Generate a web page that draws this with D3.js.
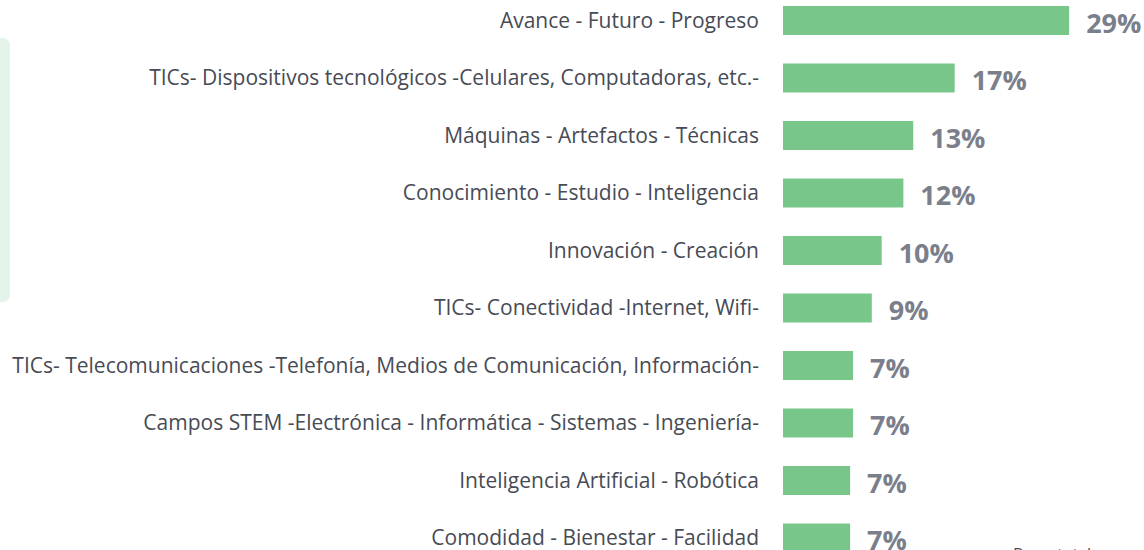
<!DOCTYPE html>
<html>
<head>
<meta charset="utf-8">
<script src="https://cdn.jsdelivr.net/npm/d3@7"></script>
<style>
    html, body { margin: 0; padding: 0; background: #fff; overflow: hidden; }
    #chart { width: 1144px; height: 550px; }
    .cat { font-family: "Open Sans", sans-serif; fill: #474b55; }
    .val { font-family: "Open Sans", sans-serif; font-weight: 700; fill: #7b7f8b; }
    .base { font-family: "Open Sans", sans-serif; fill: #474b55; }
</style>
</head>
<body>
<div id="chart"></div>
<script>
///// DATOS //////
let categorias = [
    'Avance - Futuro - Progreso',
    'TICs- Dispositivos tecnológicos -Celulares, Computadoras, etc.-',
    'Máquinas - Artefactos - Técnicas',
    'Conocimiento - Estudio - Inteligencia',
    'Innovación - Creación',
    'TICs- Conectividad -Internet, Wifi-',
    'TICs- Telecomunicaciones -Telefonía, Medios de Comunicación, Información-',
    'Campos STEM -Electrónica - Informática - Sistemas - Ingeniería-',
    'Inteligencia Artificial - Robótica',
    'Comodidad - Bienestar - Facilidad'
];
let valores = [29, 17.4, 13.2, 12.2, 10, 9, 7.1, 7.1, 6.8, 6.8];
let notaBase = 'Base: total';

let width = 1144, height = 550;
let colorBarra = '#78c689';

let svg = d3.select('#chart')
    .append('svg')
    .attr('width', width)
    .attr('height', height);

//Recuadro verde cortado a la izquierda
svg.append('rect')
    .attr('x', -12)
    .attr('y', 38)
    .attr('width', 22)
    .attr('height', 264)
    .attr('rx', 7)
    .attr('fill', '#e5f4ea');

let datos = categorias.map(function(c, i) { return {cat: c, valor: valores[i]}; });

let y = d3.scaleBand()
    .domain(categorias)
    .range([-8.25, 566.75])
    .paddingInner(0.496)
    .paddingOuter(0.248);

let x = d3.scaleLinear()
    .domain([0, 30])
    .range([783, 783 + 296]);

//Barras
svg.selectAll('.bar')
    .data(datos)
    .enter()
    .append('rect')
    .attr('class', 'bar')
    .attr('x', x(0))
    .attr('y', function(d) { return y(d.cat); })
    .attr('width', function(d) { return x(d.valor) - x(0); })
    .attr('height', y.bandwidth())
    .attr('fill', colorBarra);

//Etiquetas de categoría
let cats = svg.selectAll('.cat')
    .data(datos)
    .enter()
    .append('text')
    .attr('class', 'cat')
    .attr('x', 759)
    .attr('y', function(d) { return y(d.cat) + y.bandwidth() / 2; })
    .attr('dy', '0.35em')
    .attr('text-anchor', 'end')
    .style('font-size', '18px')
    .text(function(d) { return d.cat; });

//Ajustamos el tamaño para que la etiqueta más larga quepa como en el original
let maxW = d3.max(cats.nodes(), function(n) { return n.getComputedTextLength(); });
cats.style('font-size', (18 * 747 / maxW) + 'px');

//Etiquetas de valor
svg.selectAll('.val')
    .data(datos)
    .enter()
    .append('text')
    .attr('class', 'val')
    .attr('x', function(d) { return x(d.valor) + 17; })
    .attr('y', function(d) { return y(d.cat) + y.bandwidth() / 2 + 3; })
    .attr('dy', '0.35em')
    .style('font-size', '27px')
    .text(function(d) { return Math.round(d.valor) + '%'; });

//Nota de base (cortada abajo)
svg.append('text')
    .attr('class', 'base')
    .attr('x', 1013)
    .attr('y', 560)
    .style('font-size', '16px')
    .text(notaBase);
</script>
</body>
</html>
